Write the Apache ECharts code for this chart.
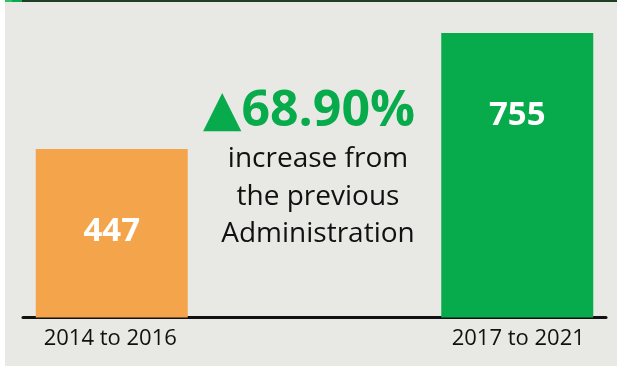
<!DOCTYPE html>
<html>
<head>
<meta charset="utf-8">
<script src="https://cdn.jsdelivr.net/npm/echarts@6/dist/echarts.min.js"></script>
<style>
  html, body { margin: 0; padding: 0; background: #ffffff; }
  #chart { width: 617px; height: 366px; }
</style>
</head>
<body>
<div id="chart"></div>
<script>
// ---- data ----
const categories = ['2014 to 2016', '2017 to 2021'];
const values = [447, 755];
const headlineLines = ['increase from', 'the previous', 'Administration'];

// ---- styles ----
const ORANGE = '#f4a54b';
const GREEN = '#08ab4c';
const BG = '#e8e8e4';
const INK = '#111111';
const FONT = '"Open Sans", "DejaVu Sans", sans-serif';

const pct = ((values[1] - values[0]) / values[0] * 100).toFixed(2) + '%';

const chart = echarts.init(document.getElementById('chart'), null, { renderer: 'canvas' });

const labelStyle = {
  show: true,
  position: 'insideTop',
  distance: 66,
  color: '#ffffff',
  fontSize: 33,
  fontWeight: 'bold',
  fontFamily: FONT
};

chart.setOption({
  animation: false,
  backgroundColor: BG,
  grid: {
    left: 23, right: 11, top: 33, bottom: 48.5,
    containLabel: false,
    outerBoundsMode: 'none'
  },
  xAxis: {
    type: 'category',
    data: categories,
    axisTick: { show: false },
    axisLine: { lineStyle: { color: INK, width: 3 } },
    axisLabel: {
      margin: 10,
      color: INK,
      fontSize: 22,
      fontFamily: FONT,
      formatter: function (v, i) {
        return (i === 0 ? '{a|' : '{b|') + v + '}';
      },
      rich: {
        a: { fontSize: 22, fontFamily: FONT, color: INK, padding: [0, 117, 0, 0] },
        b: { fontSize: 22, fontFamily: FONT, color: INK, padding: [0, 0, 0, 116] }
      }
    }
  },
  yAxis: {
    type: 'value',
    min: 0,
    max: Math.max.apply(null, values),
    show: false,
    splitLine: { show: false }
  },
  series: [
    {
      type: 'bar',
      data: values.map((v, i) => (i === 0 ? v : '-')),
      barWidth: 152,
      barGap: '-25%',
      itemStyle: { color: ORANGE },
      label: labelStyle,
      z: 1
    },
    {
      type: 'bar',
      data: values.map((v, i) => (i === 1 ? v : '-')),
      barWidth: 152,
      itemStyle: { color: GREEN },
      label: labelStyle,
      z: 1
    }
  ],
  graphic: [
    { type: 'rect', shape: { x: 0, y: 0, width: 5, height: 366 }, style: { fill: '#ffffff' }, silent: true },
    { type: 'rect', shape: { x: 5, y: 0, width: 612, height: 2 }, style: { fill: '#1f3f24' }, silent: true },
    { type: 'rect', shape: { x: 5, y: 0, width: 7, height: 2 }, style: { fill: '#2fbf68' }, silent: true },
    { type: 'rect', shape: { x: 12, y: 0, width: 10, height: 2 }, style: { fill: '#08ab4c' }, silent: true },
    {
      type: 'text',
      x: 309, y: 112,
      style: {
        text: '{tri|▲}{num|' + pct + '}',
        align: 'center',
        verticalAlign: 'middle',
        rich: {
          tri: { fontFamily: '"DejaVu Sans", sans-serif', fontSize: 50, fill: GREEN, fontWeight: 'bold' },
          num: { fontFamily: FONT, fontSize: 50, fill: GREEN, fontWeight: 'bold' }
        }
      }
    },
    {
      type: 'text',
      x: 318, y: 197,
      style: {
        text: headlineLines.join('\n'),
        align: 'center',
        verticalAlign: 'middle',
        fontFamily: FONT,
        fontSize: 28,
        lineHeight: 37.5,
        fill: INK
      }
    }
  ]
});
</script>
</body>
</html>
